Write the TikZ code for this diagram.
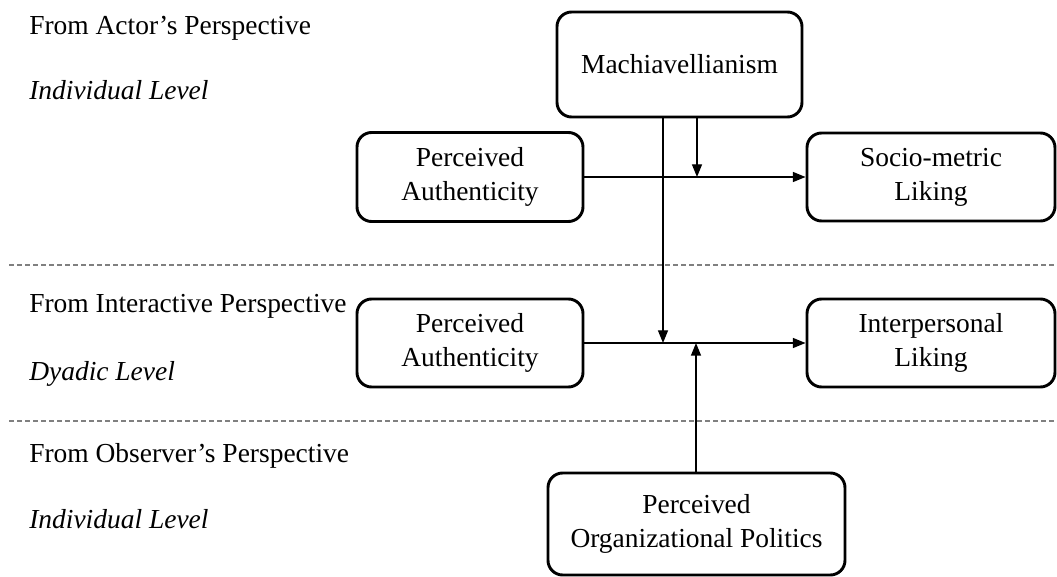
\documentclass[tikz,border=0pt]{standalone}
\usepackage{fontspec}
\setmainfont{Liberation Serif}
\usetikzlibrary{arrows.meta}
\begin{document}
\begin{tikzpicture}[x=0.75pt,y=-0.75pt,
  font=\fontsize{20.6pt}{25.5pt}\selectfont,
  box/.style={draw=black, line width=2.2pt, rounded corners=11pt, fill=white,
    align=center, inner sep=0pt},
  arr/.style={line width=1pt, -{Triangle[length=9.5pt,width=7.5pt]}},
  sep/.style={draw=gray, line width=0.8pt, dash pattern=on 3.5pt off 2.5pt},
  lbl/.style={anchor=base west, inner sep=0pt}]
\useasboundingbox (0,0) rectangle (1057,577);

% level separators
\coordinate (s1a) at (9,265);   \coordinate (s1b) at (1057,265);
\coordinate (s2a) at (9,421);   \coordinate (s2b) at (1057,421);
\draw[sep] (s1a) -- (s1b);
\draw[sep] (s2a) -- (s2b);

% perspective labels
\node[lbl] (t1) at (29,35)  {From Actor’s Perspective};
\node[lbl] (t2) at (29,100) {\itshape Individual Level};
\node[lbl] (t3) at (29,313) {From Interactive Perspective};
\node[lbl] (t4) at (29,380) {\itshape Dyadic Level};
\node[lbl] (t5) at (29,462) {From Observer’s Perspective};
\node[lbl] (t6) at (29,528) {\itshape Individual Level};

% constructs
\node[box, minimum width=183.75pt, minimum height=78.75pt] (mach) at (679.5,64.5) {Machiavellianism};
\node[box, minimum width=169.5pt, minimum height=66.75pt] (pa1) at (470,177) {Perceived\\Authenticity};
\node[box, minimum width=186pt, minimum height=66pt] (soc) at (931,177) {Socio-metric\\Liking};
\node[box, minimum width=169.5pt, minimum height=66pt] (pa2) at (470,343) {Perceived\\Authenticity};
\node[box, minimum width=186pt, minimum height=66pt] (ipl) at (931,343) {Interpersonal\\Liking};
\node[box, minimum width=222.75pt, minimum height=76.5pt] (pop) at (696.5,524) {Perceived\\Organizational Politics};

% moderation points on the main paths
\coordinate (j1) at (697,177);
\coordinate (j2) at (663,343);
\coordinate (j3) at (696,343);

% paths
\draw[arr] (pa1) -- (soc);
\draw[arr] (pa2) -- (ipl);
\draw[arr] (mach.south -| j1) -- (j1);
\draw[arr] (mach.south -| j2) -- (j2);
\draw[arr] (pop.north -| j3) -- (j3);
\end{tikzpicture}
\end{document}
